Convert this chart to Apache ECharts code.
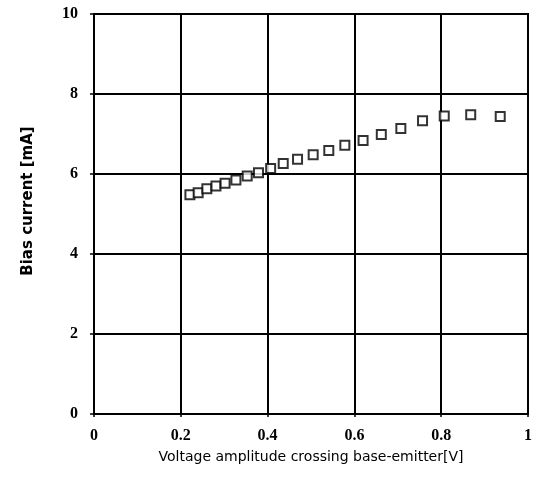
<!DOCTYPE html>
<html><head><meta charset="utf-8">
<script src="https://cdn.jsdelivr.net/npm/echarts@6/dist/echarts.min.js"></script>
<style>html,body{margin:0;padding:0;background:#fff}#c{width:540px;height:488px}</style>
</head><body><div id="c"></div>
<script>
const voltage = [0.221,0.240,0.260,0.281,0.302,0.327,0.353,0.379,0.407,0.436,0.469,0.505,0.541,0.578,0.620,0.662,0.707,0.757,0.807,0.868,0.936];
const biasCurrent = [5.48,5.53,5.63,5.70,5.77,5.85,5.95,6.03,6.14,6.26,6.37,6.48,6.59,6.72,6.84,6.99,7.14,7.33,7.45,7.48,7.44];
const xTicks = [0,0.2,0.4,0.6,0.8,1];
const yTicks = [0,2,4,6,8,10];
const xTitle = 'Voltage amplitude crossing base-emitter[V]';
const yTitle = 'Bias current [mA]';

const chart = echarts.init(document.getElementById('c'));
const tickFont = {fontFamily:'Liberation Serif', fontWeight:'bold', fontSize:16, color:'#000'};
chart.setOption({
  animation:false,
  backgroundColor:'#fff',
  grid:{left:94,right:12,top:14,bottom:74,show:true,borderColor:'#000',borderWidth:2},
  xAxis:{type:'value',min:xTicks[0],max:xTicks[xTicks.length-1],interval:0.2,
    name:xTitle,nameLocation:'middle',nameGap:36,
    nameTextStyle:{fontFamily:'DejaVu Sans',fontSize:14,color:'#000'},
    axisLine:{lineStyle:{color:'#000',width:2}},
    axisTick:{show:true,length:3,lineStyle:{color:'#000',width:1.5}},
    splitLine:{show:true,lineStyle:{color:'#000',width:2}},
    axisLabel:Object.assign({margin:14,formatter:v=>String(v)},tickFont)},
  yAxis:{type:'value',min:yTicks[0],max:yTicks[yTicks.length-1],interval:2,
    name:yTitle,nameLocation:'middle',nameGap:58,nameRotate:90,
    nameTextStyle:{fontFamily:'DejaVu Sans',fontWeight:'bold',fontSize:15,color:'#000',padding:[0,0,0,26]},
    axisLine:{lineStyle:{color:'#000',width:2}},
    axisTick:{show:true,length:4,lineStyle:{color:'#000',width:1.5}},
    splitLine:{show:true,lineStyle:{color:'#000',width:2}},
    axisLabel:Object.assign({margin:16},tickFont)},
  series:[{type:'scatter',data:voltage.map((v,i)=>[v,biasCurrent[i]]),
    symbol:'rect',symbolSize:9,
    itemStyle:{color:'#fff',borderColor:'#000',borderWidth:2}}]
});
</script></body></html>
